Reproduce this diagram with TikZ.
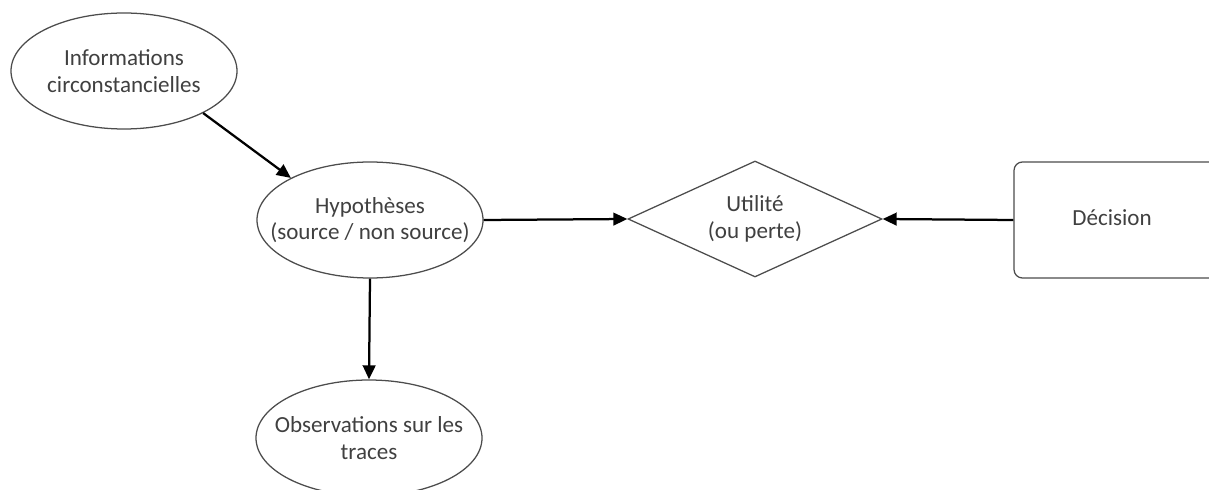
\documentclass[tikz,border=0pt]{standalone}
\usepackage{fontspec}
\setmainfont{Carlito}
\usetikzlibrary{shapes.geometric, arrows.meta}

\tikzset{
    ovalnode/.style = {shape = ellipse, draw = black!70, line width = 0.9pt, text = black!75,
        minimum width = 5.65cm, minimum height = 2.9cm, inner xsep = -0.6cm, inner ysep = 0pt, align = center},
    arr/.style = {line width = 1.6pt, -{Triangle[length = 10pt, width = 9pt]}}
}

\begin{document}
\begin{tikzpicture}[font = \fontsize{16.4}{19}\selectfont]
    \useasboundingbox (0,0) rectangle (30.225,-12.25);
    \node[ovalnode] (info) at (3.1,-1.775) {Informations\\circonstancielles};
    \node[ovalnode] (hyp) at (9.25,-5.5) {Hypothèses\\(source / non source)};
    \node[ovalnode] (obs) at (9.225,-10.95) {Observations sur les\\traces};
    \node[shape = diamond, aspect = 2.2, draw = black!70, line width = 0.9pt, text = black!75, inner sep = 0pt,
        minimum width = 6.35cm, minimum height = 2.9cm, align = center] (util) at (18.875,-5.475) {Utilité\\(ou perte)};
    \node[shape = rectangle, rounded corners = 6pt, draw = black!70, line width = 0.9pt, text = black!75,
        minimum width = 5.1cm, minimum height = 2.9cm] (dec) at (27.9,-5.5) {};
    \node[text = black!75] (declabel) at (27.8,-5.45) {Décision};
    \draw[arr] (info.-28) -- (hyp.152);
    \draw[arr] (hyp.east) -- (util.west);
    \draw[arr] (dec.west) -- (util.east);
    \draw[arr] (hyp.south) -- (obs.north);
\end{tikzpicture}
\end{document}
